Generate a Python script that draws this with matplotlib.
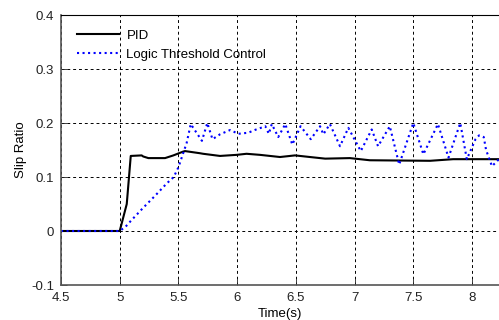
import matplotlib
matplotlib.use('Agg')
import matplotlib.pyplot as plt

plt.rcParams['font.family'] = ['Liberation Sans', 'DejaVu Sans']
plt.rcParams['font.size'] = 9.5

# PID slip ratio response
t_pid = [4.5, 5.0, 5.06, 5.094, 5.187, 5.2, 5.244, 5.386, 5.457, 5.54, 5.556,
         5.684, 5.71, 5.854, 5.996, 6.08, 6.195, 6.28, 6.365, 6.493, 6.62,
         6.75, 6.96, 7.13, 7.643, 7.84, 8.3]
s_pid = [0.0, 0.0, 0.05, 0.139, 0.14, 0.138, 0.135, 0.135, 0.14, 0.147, 0.148,
         0.144, 0.143, 0.139, 0.141, 0.143, 0.141, 0.139, 0.137, 0.14, 0.137,
         0.134, 0.135, 0.131, 0.13, 0.133, 0.133]

# logic threshold control slip ratio response
t_ltc = [4.5, 5.0, 5.05, 5.1, 5.2, 5.3, 5.4, 5.46, 5.5, 5.57, 5.605, 5.70,
         5.746, 5.79, 5.854, 5.94, 6.01, 6.095, 6.15, 6.24, 6.27, 6.295, 6.35,
         6.41, 6.47, 6.54, 6.627, 6.706, 6.734, 6.79, 6.876, 6.947, 7.053,
         7.146, 7.20, 7.30, 7.38, 7.50, 7.586, 7.71, 7.80, 7.90, 7.956, 8.03,
         8.06, 8.10, 8.12, 8.17, 8.23]
s_ltc = [0.0, 0.0, 0.008, 0.02, 0.043, 0.065, 0.088, 0.1, 0.118, 0.163, 0.198,
         0.167, 0.2, 0.17, 0.179, 0.187, 0.18, 0.182, 0.187, 0.194, 0.18, 0.198,
         0.174, 0.198, 0.16, 0.194, 0.17, 0.194, 0.179, 0.198, 0.157, 0.191,
         0.148, 0.188, 0.157, 0.194, 0.123, 0.2, 0.142, 0.198, 0.136, 0.2,
         0.133, 0.17, 0.177, 0.174, 0.15, 0.12, 0.133]

fig = plt.figure(figsize=(4.99, 3.2), dpi=100)
ax = fig.add_axes([61/499, 1 - 285/320, 1 - 61/499, (285 - 15)/320])

ax.plot(t_pid, s_pid, color='k', lw=1.5, label='PID')
ax.plot(t_ltc, s_ltc, color='b', lw=1.5, ls=':', label='Logic Threshold Control')

ax.set_xlim(4.5, 8.23)
ax.set_ylim(-0.1, 0.4)
ax.set_xticks([4.5, 5, 5.5, 6, 6.5, 7, 7.5, 8])
ax.set_xticklabels(['4.5', '5', '5.5', '6', '6.5', '7', '7.5', '8'])
ax.set_yticks([-0.1, 0, 0.1, 0.2, 0.3, 0.4])
ax.set_yticklabels(['-0.1', '0', '0.1', '0.2', '0.3', '0.4'])
ax.grid(True, color='k', ls=(0, (3, 3)), lw=0.7)
ax.tick_params(direction='in', length=4, width=0.6, labelsize=9.5,
               colors='#222222', pad=5)
ax.spines['right'].set_visible(False)
for side in ['left', 'bottom']:
    ax.spines[side].set_color('#555555')
    ax.spines[side].set_linewidth(1.2)
ax.spines['top'].set_linewidth(0.8)

ax.set_xlabel('Time(s)', fontsize=9.5, labelpad=3)
ax.set_ylabel('Slip Ratio', fontsize=9.5, labelpad=3)
ax.legend(loc='upper left', bbox_to_anchor=(0.0244, 0.966), borderaxespad=0,
          frameon=False, handlelength=3.2, handletextpad=0.55,
          fontsize=9.5, labelspacing=0.5)

fig.savefig('out.png', dpi=100)
